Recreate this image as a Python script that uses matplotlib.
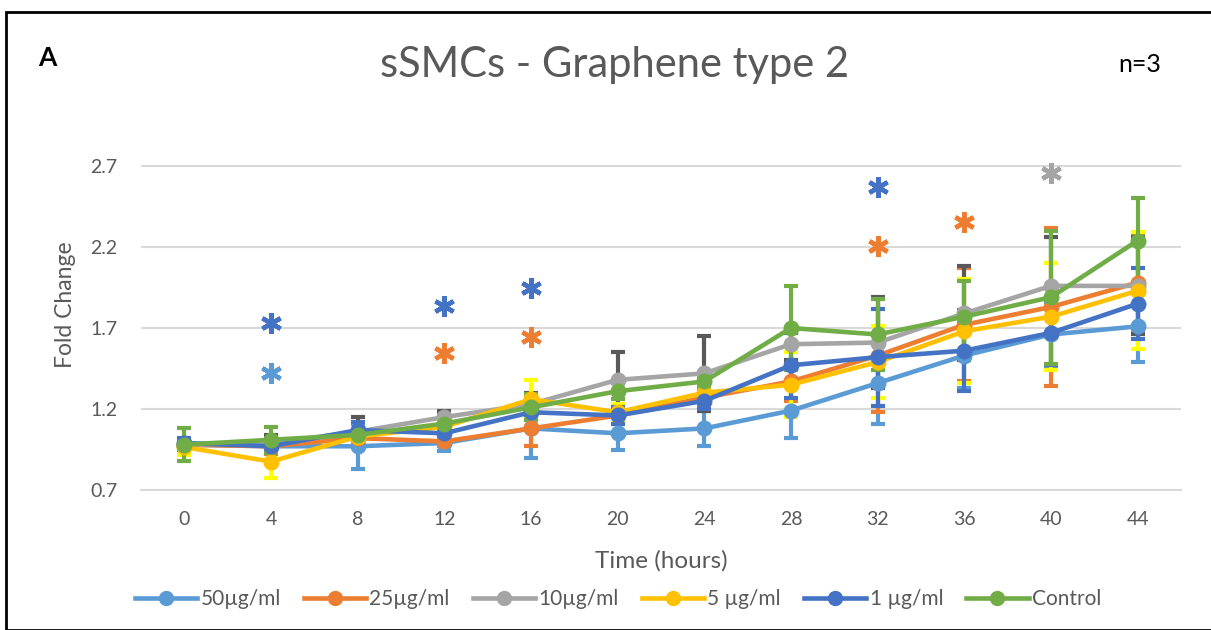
import matplotlib
matplotlib.use("Agg")
import matplotlib.pyplot as plt
from matplotlib.patches import Rectangle

plt.rcParams['font.family'] = ['Lato', 'DejaVu Sans']

hours = [0, 4, 8, 12, 16, 20, 24, 28, 32, 36, 40, 44]
series_names = ["50µg/ml", "25µg/ml", "10µg/ml", "5 µg/ml", "1 µg/ml", "Control"]

v50 = [0.98, 0.97, 0.97, 0.99, 1.08, 1.05, 1.08, 1.19, 1.36, 1.53, 1.66, 1.71]
v25 = [0.98, 0.97, 1.02, 1.00, 1.08, 1.16, 1.27, 1.37, 1.53, 1.72, 1.83, 1.98]
v10 = [0.98, 0.99, 1.06, 1.15, 1.23, 1.38, 1.42, 1.60, 1.61, 1.79, 1.96, 1.96]
v5 = [0.965, 0.875, 1.03, 1.09, 1.26, 1.18, 1.30, 1.35, 1.49, 1.68, 1.77, 1.93]
v1 = [0.99, 0.97, 1.07, 1.05, 1.18, 1.16, 1.25, 1.47, 1.52, 1.56, 1.67, 1.85]
vctl = [0.98, 1.01, 1.04, 1.11, 1.21, 1.31, 1.37, 1.70, 1.66, 1.77, 1.89, 2.24]

e50 = [0.03, 0.03, 0.14, 0.05, 0.18, 0.10, 0.11, 0.17, 0.25, 0.20, 0.20, 0.22]
e25 = [0.02, 0.05, 0.05, 0.03, 0.11, 0.05, 0.05, 0.12, 0.35, 0.35, 0.49, 0.30]
e10 = [0.03, 0.05, 0.09, 0.04, 0.07, 0.17, 0.23, 0.10, 0.28, 0.29, 0.30, 0.30]
e5 = [0.05, 0.10, 0.03, 0.05, 0.12, 0.05, 0.05, 0.20, 0.22, 0.32, 0.33, 0.36]
e1 = [0.03, 0.03, 0.05, 0.03, 0.05, 0.05, 0.05, 0.20, 0.30, 0.25, 0.20, 0.22]
ectl = [0.10, 0.08, 0.03, 0.05, 0.08, 0.05, 0.03, 0.26, 0.22, 0.22, 0.41, 0.26]

# significance asterisks: hour, value, series index
star_hours = [4, 4, 12, 12, 16, 16, 32, 32, 36, 40]
star_values = [1.733, 1.42, 1.836, 1.544, 1.945, 1.643, 2.57, 2.206, 2.356, 2.655]
star_series = [4, 0, 4, 1, 4, 1, 4, 1, 1, 2]

line_colors = ["#5B9BD5", "#ED7D31", "#A5A5A5", "#FFC000", "#4472C4", "#70AD47"]
err_colors = ["#5B9BD5", "#ED7D31", "#595959", "#FFFF00", "#4472C4", "#70AD47"]

values = [v50, v25, v10, v5, v1, vctl]
errors = [e50, e25, e10, e5, e1, ectl]

W, H = 1211, 630
fig = plt.figure(figsize=(W / 100, H / 100), dpi=100)
ax = fig.add_axes([141 / W, 1 - 490 / H, (1181 - 141) / W, (490 - 125.5) / H])

xpos = list(range(len(hours)))
txt = "#595959"

for i in range(len(values)):
    ax.errorbar(xpos, values[i], yerr=errors[i], fmt='none', ecolor=err_colors[i],
                elinewidth=3, capsize=5, capthick=3, zorder=2 + i * 0.1)
for i in range(len(values)):
    ax.plot(xpos, values[i], color=line_colors[i], lw=3.3, marker='o', markersize=10.5,
            label=series_names[i], zorder=3 + i * 0.1)

for h, yv, s in zip(star_hours, star_values, star_series):
    xi = hours.index(h)
    ax.add_patch(Rectangle((xi - 0.31, yv - 0.16), 0.62, 0.32, fc='white', ec='none',
                           zorder=0.5))
    ax.plot([xi], [yv], linestyle='none', marker=(6, 2, 0), markersize=15,
            markeredgewidth=3.2, color=line_colors[s], zorder=5)

ax.set_xlim(-0.5, len(hours) - 0.5)
ax.set_ylim(0.7, 2.95)
ax.set_yticks([0.7, 1.2, 1.7, 2.2, 2.7])
ax.set_yticklabels(["0.7", "1.2", "1.7", "2.2", "2.7"])
ax.set_xticks(xpos)
ax.set_xticklabels([str(h) for h in hours])
ax.yaxis.grid(True, color="#D9D9D9", lw=1.5, zorder=0)
ax.set_axisbelow(True)
for sp in ['top', 'right', 'left']:
    ax.spines[sp].set_visible(False)
ax.spines['bottom'].set_color("#D9D9D9")
ax.spines['bottom'].set_linewidth(1.5)
ax.tick_params(axis='both', length=0, labelsize=14, labelcolor=txt)
ax.tick_params(axis='x', pad=15)
ax.tick_params(axis='y', pad=17)

fig.text(65 / W, 1 - 305 / H, "Fold Change", rotation=90, ha='center', va='center',
         fontsize=16.5, color=txt)
fig.text(661 / W, 1 - 561 / H, "Time (hours)", ha='center', va='center',
         fontsize=17.5, color=txt)
fig.text(614 / W, 1 - 65 / H, "sSMCs - Graphene type 2", ha='center', va='center',
         fontsize=30, color=txt)
fig.text(47 / W, 1 - 58 / H, "A", ha='center', va='center', fontsize=19,
         fontweight='bold', color='black')
fig.text(1140 / W, 1 - 65 / H, "n=3", ha='center', va='center', fontsize=18,
         color='black')

leg = fig.legend(loc='center', bbox_to_anchor=(618 / W, 1 - 599 / H), ncol=6,
                 frameon=False, fontsize=15, handlelength=3.0, columnspacing=1.1,
                 handletextpad=0.15, labelcolor=txt)
for lh in leg.legend_handles:
    lh.set_markersize(10)

fig.patches.append(Rectangle((6 / W, 0), 1.2, 1 - 12 / H, transform=fig.transFigure,
                             fill=False, ec='black', lw=2))

fig.savefig("out.png", dpi=100)
